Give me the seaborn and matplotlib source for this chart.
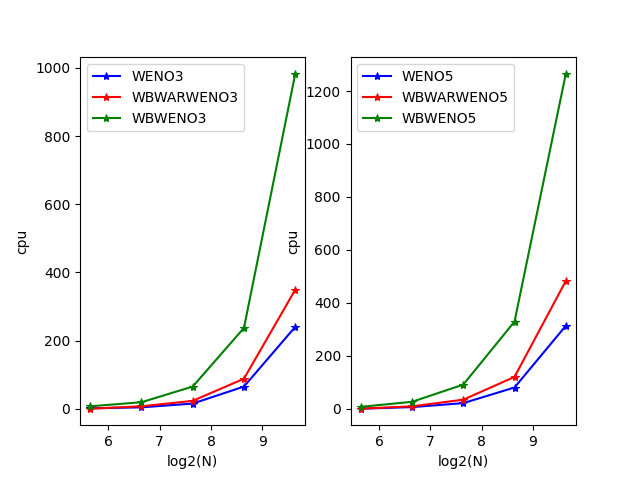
import numpy as np
import pandas as pd
import matplotlib
matplotlib.use("Agg")
import matplotlib.pyplot as plt
import seaborn as sns

N = [50, 100, 200, 400, 800]
x = list(np.log2(N))

weno3 = [1, 4, 15, 65, 240]
wbwarweno3 = [0, 7, 23, 88, 349]
wbweno3 = [7, 19, 65, 237, 982]

weno5 = [0, 6, 21, 80, 313]
wbwarweno5 = [0, 9, 34, 120, 482]
wbweno5 = [7, 26, 91, 329, 1264]

labels_left = ["WENO3", "WBWARWENO3", "WBWENO3"]
labels_right = ["WENO5", "WBWARWENO5", "WBWENO5"]
colors = ["blue", "red", "green"]

fig, axes = plt.subplots(1, 2, figsize=(6.4, 4.78), dpi=100)
fig.subplots_adjust(left=0.125, right=0.9, top=0.88, bottom=0.11, wspace=0.2)

for ax, series, labels in [
    (axes[0], [weno3, wbwarweno3, wbweno3], labels_left),
    (axes[1], [weno5, wbwarweno5, wbweno5], labels_right),
]:
    for s, lab, c in zip(series, labels, colors):
        df = pd.DataFrame({"x": x, "y": s})
        sns.lineplot(data=df, x="x", y="y", ax=ax, color=c, marker="*",
                     markersize=6, markeredgecolor=c, label=lab)
    ax.set_xlabel("log2(N)")
    ax.set_ylabel("cpu")
    ax.set_xticks([6, 7, 8, 9])
    ax.legend(loc="upper left")

fig.savefig("out.png", dpi=100)
